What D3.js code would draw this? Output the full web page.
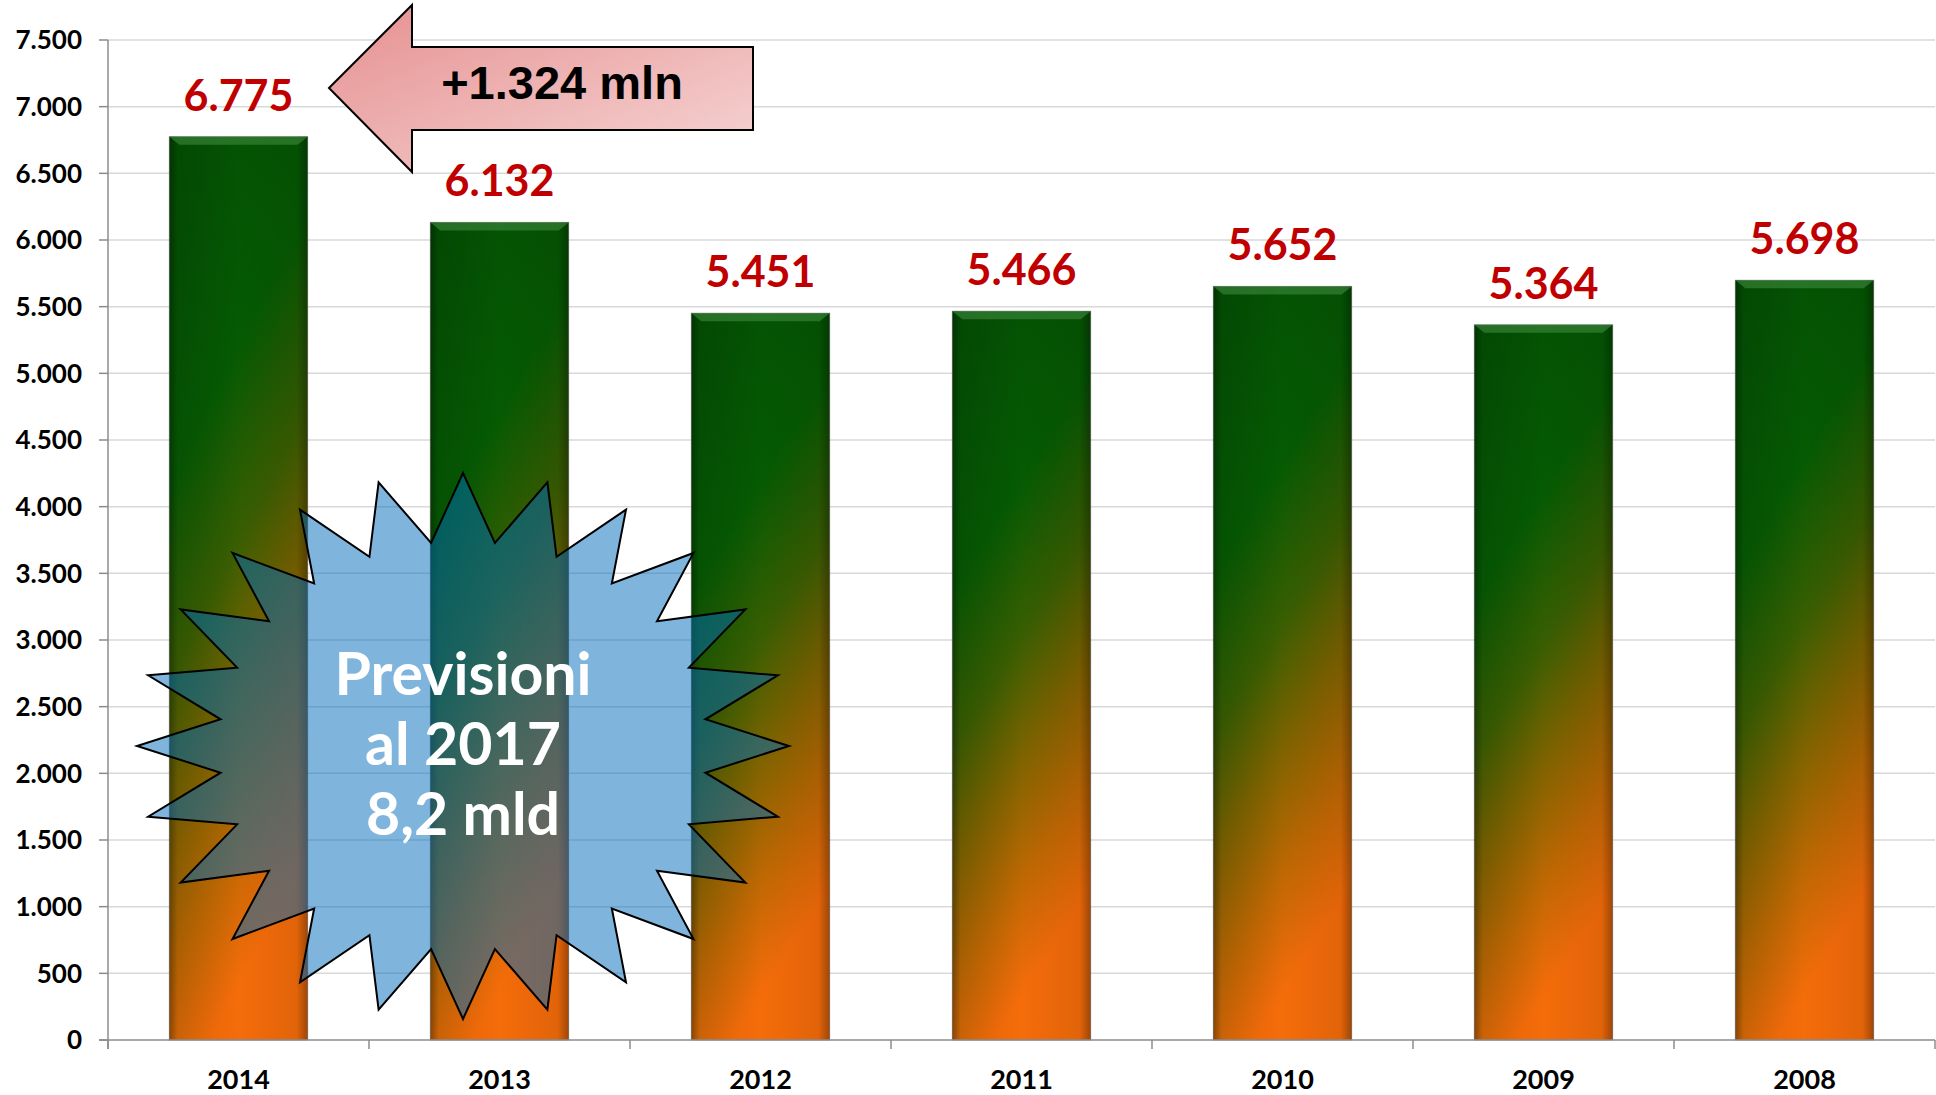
<!DOCTYPE html>
<html>
<head>
<meta charset="utf-8">
<script src="https://cdn.jsdelivr.net/npm/d3@7"></script>
<style>
  html, body { margin: 0; padding: 0; background: #fff; }
  svg { display: block; }
</style>
</head>
<body>
<script>
const width = 1936;
const height = 1095;

// data
const years = ["2014", "2013", "2012", "2011", "2010", "2009", "2008"];
const values = [6775, 6132, 5451, 5466, 5652, 5364, 5698];
const yTicks = [0, 500, 1000, 1500, 2000, 2500, 3000, 3500, 4000, 4500, 5000, 5500, 6000, 6500, 7000, 7500];
const arrowText = "+1.324 mln";
const burstLines = ["Previsioni", "al 2017", "8,2 mld"];

const it = d3.formatLocale({decimal: ",", thousands: ".", grouping: [3], currency: ["", "€"]});
const fmt = it.format(",");

const x = d3.scaleBand()
    .domain(years)
    .range([108, 1935])
    .paddingInner(0.47)
    .paddingOuter(0.235);

const y = d3.scaleLinear()
    .domain([0, 7500])
    .range([1040, 40]);

const svg = d3.select("body").append("svg")
    .attr("width", width)
    .attr("height", height);

const defs = svg.append("defs");

const barGrad = defs.append("linearGradient")
    .attr("id", "barGrad")
    .attr("x1", 0).attr("y1", 0).attr("x2", 0.3).attr("y2", 1);
[[0, "#034e03"], [0.35, "#055a03"], [0.55, "#3a5e02"], [0.7, "#7e6300"], [0.85, "#bd6803"], [1, "#f56c0a"]]
  .forEach(s => barGrad.append("stop").attr("offset", s[0]).attr("stop-color", s[1]));

const edgeGrad = defs.append("linearGradient")
    .attr("id", "edgeGrad")
    .attr("x1", 0).attr("y1", 0).attr("x2", 1).attr("y2", 0);
[[0, 0.35], [0.06, 0.08], [0.5, 0], [0.92, 0.08], [1, 0.35]]
  .forEach(s => edgeGrad.append("stop").attr("offset", s[0]).attr("stop-color", "#000").attr("stop-opacity", s[1]));

const arrowGrad = defs.append("linearGradient")
    .attr("id", "arrowGrad")
    .attr("x1", 0).attr("y1", 0).attr("x2", 1).attr("y2", 1);
arrowGrad.append("stop").attr("offset", 0).attr("stop-color", "#e69090");
arrowGrad.append("stop").attr("offset", 1).attr("stop-color", "#f6d6d6");

// gridlines
svg.append("g")
  .selectAll("line")
  .data(yTicks.filter(d => d > 0))
  .join("line")
    .attr("x1", 108).attr("x2", 1935)
    .attr("y1", d => y(d)).attr("y2", d => y(d))
    .attr("stroke", "#d9d9d9")
    .attr("stroke-width", 1.5);

// bars
const bar = svg.append("g")
  .selectAll("g")
  .data(years.map((d, i) => ({year: d, value: values[i]})))
  .join("g");

bar.append("rect")
    .attr("x", d => x(d.year))
    .attr("y", d => y(d.value))
    .attr("width", x.bandwidth())
    .attr("height", d => y(0) - y(d.value))
    .attr("fill", "url(#barGrad)")
    .attr("stroke", "#6b6b6b")
    .attr("stroke-opacity", 0.6)
    .attr("stroke-width", 1);

bar.append("rect")
    .attr("x", d => x(d.year))
    .attr("y", d => y(d.value))
    .attr("width", x.bandwidth())
    .attr("height", d => y(0) - y(d.value))
    .attr("fill", "url(#edgeGrad)");

// top bevel
bar.append("polygon")
    .attr("points", d => {
      const x0 = x(d.year), x1 = x0 + x.bandwidth(), t = y(d.value);
      return [[x0, t], [x1, t], [x1 - 10, t + 8], [x0 + 10, t + 8]].join(" ");
    })
    .attr("fill", "#3d8a3d")
    .attr("opacity", 0.6);

// axes
const axis = svg.append("g")
    .attr("stroke", "#8c8c8c")
    .attr("stroke-width", 1.5);

axis.append("line")
    .attr("x1", 108).attr("x2", 108)
    .attr("y1", y(7500)).attr("y2", y(0) + 9);
axis.append("line")
    .attr("x1", 99).attr("x2", 1935)
    .attr("y1", y(0)).attr("y2", y(0));
axis.selectAll(".yt")
  .data(yTicks)
  .join("line")
    .attr("x1", 99).attr("x2", 108)
    .attr("y1", d => y(d)).attr("y2", d => y(d));

const edges = years.map(d => x(d) - (x.step() - x.bandwidth()) / 2).concat([x.range()[1]]);
axis.selectAll(".xt")
  .data(edges)
  .join("line")
    .attr("x1", d => d).attr("x2", d => d)
    .attr("y1", y(0)).attr("y2", y(0) + 9);

// tick labels
svg.append("g")
    .attr("font-family", "Lato, 'Open Sans', sans-serif")
    .attr("font-weight", 700)
    .attr("font-size", 26)
    .attr("text-anchor", "end")
  .selectAll("text")
  .data(yTicks)
  .join("text")
    .attr("x", 82)
    .attr("y", d => y(d))
    .attr("dy", "0.36em")
    .text(d => fmt(d));

svg.append("g")
    .attr("font-family", "Lato, 'Open Sans', sans-serif")
    .attr("font-weight", 700)
    .attr("font-size", 27)
    .attr("text-anchor", "middle")
  .selectAll("text")
  .data(years)
  .join("text")
    .attr("x", d => x(d) + x.bandwidth() / 2)
    .attr("y", 1089)
    .text(d => d);

// value labels
bar.append("text")
    .attr("x", d => x(d.year) + x.bandwidth() / 2)
    .attr("y", d => y(d.value) - 26)
    .attr("text-anchor", "middle")
    .attr("font-family", "Lato, 'Open Sans', sans-serif")
    .attr("font-weight", 700)
    .attr("font-size", 43)
    .attr("fill", "#c00000")
    .text(d => fmt(d.value));

// arrow callout
svg.append("polygon")
    .attr("points", [[329, 88], [412, 5], [412, 47], [753, 47], [753, 130], [412, 130], [412, 172]].join(" "))
    .attr("fill", "url(#arrowGrad)")
    .attr("stroke", "#000")
    .attr("stroke-width", 2)
    .attr("stroke-linejoin", "miter");

svg.append("text")
    .attr("x", 562)
    .attr("y", 99)
    .attr("text-anchor", "middle")
    .attr("font-family", "'Liberation Sans', Arial, sans-serif")
    .attr("font-weight", 700)
    .attr("font-size", 47)
    .attr("fill", "#000")
    .text(arrowText);

// 24-point star
const cx = 463, cy = 746, rx = 326, ry = 273, inner = 0.75;
const starPts = d3.range(48).map(i => {
  const a = i * Math.PI / 24;
  const r = i % 2 === 0 ? 1 : inner;
  return [cx + r * rx * Math.sin(a), cy - r * ry * Math.cos(a)];
});

svg.append("polygon")
    .attr("points", starPts.join(" "))
    .attr("fill", "#0069b9")
    .attr("fill-opacity", 0.5)
    .attr("stroke", "#000")
    .attr("stroke-width", 2)
    .attr("stroke-linejoin", "miter");

svg.append("g")
    .attr("font-family", "Lato, 'Open Sans', sans-serif")
    .attr("font-weight", 700)
    .attr("font-size", 59)
    .attr("fill", "#fff")
    .attr("text-anchor", "middle")
  .selectAll("text")
  .data(burstLines)
  .join("text")
    .attr("x", cx)
    .attr("y", (d, i) => 695 + i * 70)
    .text(d => d);
</script>
</body>
</html>
